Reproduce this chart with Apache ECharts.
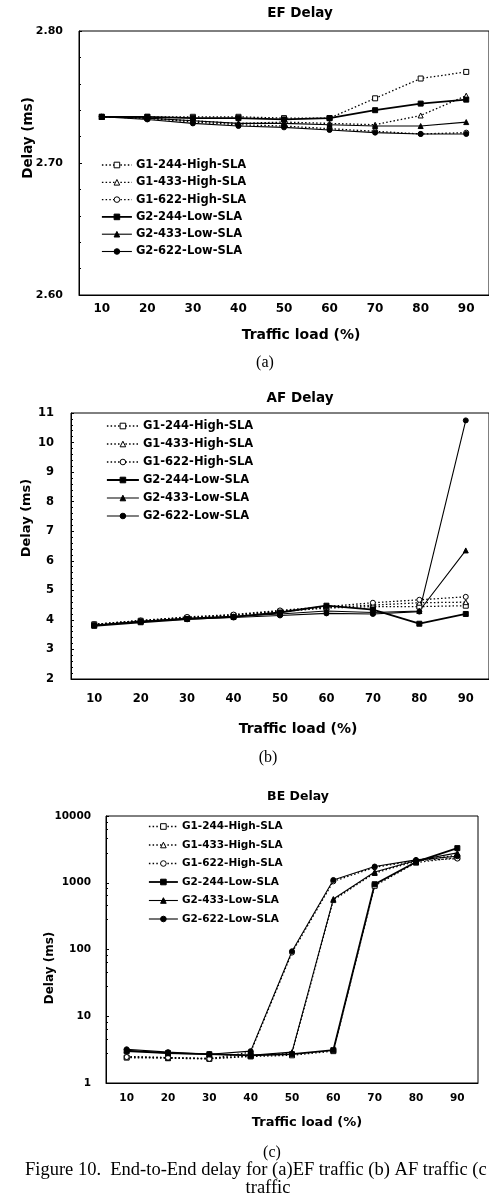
<!DOCTYPE html>
<html><head><meta charset="utf-8">
<script src="https://cdn.jsdelivr.net/npm/echarts@6/dist/echarts.min.js"></script>
<style>html,body{margin:0;padding:0;background:#fff;overflow:hidden}#c{width:489px;height:1204px}</style>
</head><body><div id="c"></div>
<script>
const loads = ['10','20','30','40','50','60','70','80','90'];
const seriesNames = ['G1-244-High-SLA','G1-433-High-SLA','G1-622-High-SLA','G2-244-Low-SLA','G2-433-Low-SLA','G2-622-Low-SLA'];

// (a) EF delay (ms)
const efG1_244 = [2.735,2.735,2.735,2.735,2.734,2.734,2.749,2.764,2.769];
const efG1_433 = [2.735,2.734,2.732,2.730,2.731,2.730,2.729,2.736,2.751];
const efG1_622 = [2.735,2.734,2.731,2.729,2.728,2.726,2.724,2.722,2.723];
const efG2_244 = [2.735,2.735,2.734,2.734,2.733,2.734,2.740,2.745,2.748];
const efG2_433 = [2.735,2.734,2.732,2.730,2.730,2.729,2.728,2.728,2.731];
const efG2_622 = [2.735,2.733,2.730,2.728,2.727,2.725,2.723,2.722,2.722];

// (b) AF delay (ms)
const afG1_244 = [3.85,3.97,4.07,4.15,4.28,4.40,4.45,4.45,4.48];
const afG1_433 = [3.85,3.97,4.08,4.17,4.30,4.42,4.50,4.58,4.60];
const afG1_622 = [3.85,3.98,4.10,4.18,4.32,4.45,4.58,4.68,4.78];
const afG2_244 = [3.80,3.92,4.03,4.10,4.25,4.48,4.35,3.87,4.20];
const afG2_433 = [3.82,3.95,4.05,4.12,4.20,4.30,4.25,4.30,6.35];
const afG2_622 = [3.82,3.95,4.02,4.08,4.15,4.22,4.20,4.28,10.75];

// (c) BE delay (ms), log scale
const beG1_244 = [2.40,2.35,2.30,2.50,2.60,3.00,900,2000,2400];
const beG1_433 = [2.50,2.40,2.35,2.55,2.80,550,1400,2100,2600];
const beG1_622 = [2.45,2.40,2.30,2.90,90,1050,1700,2150,2300];
const beG2_244 = [3.00,2.80,2.70,2.60,2.70,3.10,950,2050,3300];
const beG2_433 = [3.10,2.80,2.70,2.60,2.90,570,1450,2150,2800];
const beG2_622 = [3.20,2.90,2.70,3.00,94,1100,1750,2200,2500];

const efTicks = [2.60,2.70,2.80];
const afTicks = [2,3,4,5,6,7,8,9,10,11];
const beTicks = [1,10,100,1000,10000];

const panels = [
  [efG1_244,efG1_433,efG1_622,efG2_244,efG2_433,efG2_622],
  [afG1_244,afG1_433,afG1_622,afG2_244,afG2_433,afG2_622],
  [beG1_244,beG1_433,beG1_622,beG2_244,beG2_433,beG2_622]
];
const symbols = ['rect','triangle','circle','rect','triangle','circle'];
const FONT = 'DejaVu Sans';
const DOT = [1.5, 2.2];

function lineStyleFor(i) {
  const g1 = i < 3;
  return {color: '#000', width: g1 ? 1.3 : (i === 3 ? 1.8 : 1.1), type: g1 ? DOT : 'solid', opacity: 1};
}
function itemStyleFor(i) {
  const g1 = i < 3;
  return {color: g1 ? '#fff' : '#000', borderColor: '#000', borderWidth: 1, opacity: 1};
}

const series = [];
panels.forEach((arr, p) => {
  arr.forEach((vals, i) => {
    series.push({
      type: 'line', name: seriesNames[i], xAxisIndex: p, yAxisIndex: p,
      data: vals, symbol: symbols[i], symbolSize: 5,
      showAllSymbol: true, animation: false,
      lineStyle: lineStyleFor(i),
      itemStyle: itemStyleFor(i)
    });
  });
});

const grids = [
  {left: 79, top: 31, width: 414, height: 264},
  {left: 71, top: 413, width: 427, height: 266},
  {left: 106, top: 816, width: 372, height: 267}
];
const xLabel = [{size: 12, margin: 8}, {size: 11.5, margin: 14}, {size: 10.5, margin: 10}];

const xAxes = grids.map((g, p) => ({
  type: 'category', gridIndex: p, data: loads, boundaryGap: true,
  axisLine: {lineStyle: {color: '#000', width: 1}},
  axisTick: {inside: true, length: 3, lineStyle: {color: '#000'}},
  axisLabel: {color: '#000', fontFamily: FONT, fontWeight: 'bold', fontSize: xLabel[p].size, margin: xLabel[p].margin},
  splitLine: {show: false}
}));

const yAxes = [
  {type: 'value', gridIndex: 0, min: 2.6, max: 2.8, interval: 0.1,
   axisLabel: {formatter: v => v.toFixed(2), fontSize: 11, margin: 16}},
  {type: 'value', gridIndex: 1, min: 2, max: 11, interval: 1,
   axisLabel: {fontSize: 11.5, margin: 17}},
  {type: 'log', gridIndex: 2, min: 1, max: 10000, logBase: 10,
   axisLabel: {fontSize: 10.5, margin: 15, formatter: v => String(Math.round(v))}}
].map(a => Object.assign(a, {
  axisLine: {show: true, lineStyle: {color: '#000', width: 1}},
  axisTick: {show: true, inside: true, length: 3, lineStyle: {color: '#000'}},
  minorTick: {show: true, splitNumber: 5, length: 2, lineStyle: {color: '#000'}},
  splitLine: {show: false},
  axisLabel: Object.assign(a.axisLabel, {color: '#000', fontFamily: FONT, fontWeight: 'bold'})
}));

function legendAt(left, top, iw, fs, gap) {
  return {
    orient: 'vertical', left: left, top: top, padding: 0,
    itemWidth: iw, itemHeight: 7, itemGap: gap,
    data: seriesNames.map((n, i) => ({name: n, itemStyle: itemStyleFor(i), lineStyle: lineStyleFor(i)})),
    textStyle: {color: '#000', fontFamily: FONT, fontWeight: 'bold', fontSize: fs, padding: [0,0,0,-1]},
    selectedMode: false
  };
}

function txt(x, y, s, size) {
  return {type: 'text', x: x, y: y,
    style: {text: s, fill: '#000', font: 'bold ' + size + 'px "' + FONT + '"', textAlign: 'center', textVerticalAlign: 'middle'}};
}
function vtxt(x, y, s, size) {
  return {type: 'text', x: x, y: y, rotation: Math.PI / 2,
    style: {text: s, fill: '#000', font: 'bold ' + size + 'px "' + FONT + '"', textAlign: 'center', textVerticalAlign: 'middle'}};
}
function stxt(x, y, s, size, align) {
  return {type: 'text', x: x, y: y,
    style: {text: s, fill: '#000', font: size + 'px "Liberation Serif"', textAlign: align || 'center', textVerticalAlign: 'middle'}};
}

const option = {
  backgroundColor: '#fff',
  animation: false,
  grid: grids.map(g => Object.assign({show: true, borderColor: '#000', borderWidth: 1, containLabel: false}, g)),
  xAxis: xAxes,
  yAxis: yAxes,
  legend: [
    legendAt(101, 159, 30, 11.5, 5.3),
    legendAt(106, 420, 32, 11.5, 6.0),
    legendAt(148, 821, 29, 10.5, 7.5)
  ],
  series: series,
  graphic: [
    txt(300, 13, 'EF Delay', 13.5),
    vtxt(28, 138, 'Delay (ms)', 13.5),
    txt(301, 335, 'Traffic load (%)', 14),
    stxt(265, 363, '(a)', 16),

    txt(300, 398, 'AF Delay', 13.5),
    vtxt(27, 518, 'Delay (ms)', 13),
    txt(298, 729, 'Traffic load (%)', 14),
    stxt(268, 758, '(b)', 16),

    txt(298, 797, 'BE Delay', 12.5),
    vtxt(50, 968, 'Delay (ms)', 12),
    txt(307, 1123, 'Traffic load (%)', 13),
    stxt(272, 1153, '(c)', 16),

    stxt(25, 1170, 'Figure 10.  End-to-End delay for (a)EF traffic (b) AF traffic (c', 18.5, 'left'),
    stxt(268, 1188, 'traffic', 18.5)
  ]
};

const chart = echarts.init(document.getElementById('c'), null, {renderer: 'canvas'});
chart.setOption(option);
</script>
</body></html>
